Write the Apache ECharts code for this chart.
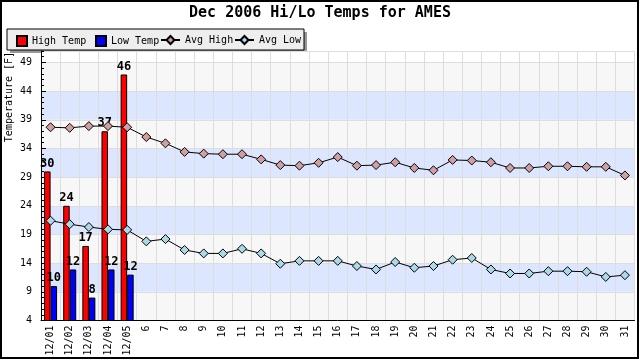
<!DOCTYPE html>
<html>
<head>
<meta charset="utf-8">
<script src="https://cdn.jsdelivr.net/npm/echarts@6/dist/echarts.min.js"></script>
<style>html,body{margin:0;padding:0;background:#fff}#c{width:640px;height:360px}</style>
</head>
<body>
<div id="c"></div>
<script>
const days = ['12/01','12/02','12/03','12/04','12/05','6','7','8','9','10','11','12','13','14','15','16','17','18','19','20','21','22','23','24','25','26','27','28','29','30','31'];
const highTemp = [30, 24, 17, 37, 46.9];
const lowTemp = [10, 12.9, 8, 12.9, 12];
const avgHigh = [37.7,37.6,37.9,37.9,37.7,36.0,34.9,33.4,33.1,33.0,33.0,32.1,31.1,31.0,31.5,32.5,31.0,31.1,31.6,30.6,30.2,32.0,31.9,31.6,30.6,30.6,30.9,30.9,30.8,30.8,29.3];
const avgLow = [21.4,20.8,20.3,19.9,19.8,17.8,18.2,16.3,15.7,15.7,16.5,15.7,13.9,14.4,14.4,14.4,13.5,12.9,14.2,13.2,13.5,14.6,14.9,12.9,12.2,12.2,12.6,12.6,12.5,11.6,11.9];
const yMin = 4, yMax = 51, yStep = 5;

const MONO = 'DejaVu Sans Mono';
const chart = echarts.init(document.getElementById('c'), null, {renderer: 'canvas'});
const bandColors = ['#f7f7f7','#dde6ff','#f7f7f7','#dde6ff','#f7f7f7','#dde6ff','#f7f7f7','#dde6ff','#f7f7f7','#ffffff'];
const labelFmt = p => String(Math.floor(p.value));
const legendText = {fontFamily: MONO, fontSize: 10, color: '#000'};
function oneLegend(name, left, w, icon) {
  const l = {data: [name], left: left, top: 35, padding: 0, itemWidth: w, itemHeight: 10, selectedMode: false, textStyle: legendText};
  if (icon) l.icon = icon;
  return l;
}

chart.setOption({
  animation: false,
  backgroundColor: '#ffffff',
  title: {
    text: 'Dec 2006 Hi/Lo Temps for AMES',
    left: 'center', top: 6, padding: 0,
    textStyle: {fontFamily: MONO, fontWeight: 'bold', fontSize: 15, color: '#000'}
  },
  legend: [
    oneLegend('High Temp', 16, 10, 'rect'),
    oneLegend('Low Temp', 95, 10, 'rect'),
    oneLegend('Avg High', 160, 19),
    oneLegend('Avg Low', 234, 19)
  ],
  graphic: [
    {type: 'rect', z: -1, shape: {x: 10, y: 32, width: 297, height: 21}, style: {fill: '#999999'}},
    {type: 'rect', z: 0, shape: {x: 7, y: 29, width: 297, height: 21}, style: {fill: '#eeeeee', stroke: '#000', lineWidth: 1}},
    {type: 'rect', z: 100, shape: {x: 1, y: 1, width: 637, height: 357}, style: {fill: 'none', stroke: '#000', lineWidth: 2}},
    {type: 'text', z: 100, x: 9, y: 97, rotation: Math.PI / 2,
     style: {text: 'Temperature [F]', font: '10px "DejaVu Sans Mono"', fill: '#000', align: 'center', verticalAlign: 'middle'}}
  ],
  grid: {left: 41, right: 5.5, top: 51, bottom: 39.5, containLabel: false},
  xAxis: {
    type: 'category', data: days, boundaryGap: true,
    axisLine: {lineStyle: {color: '#000', width: 1}},
    axisTick: {inside: true, length: 4, lineStyle: {color: '#000'}},
    axisLabel: {rotate: 90, interval: 0, margin: 5, fontFamily: MONO, fontSize: 10, color: '#000'},
    splitLine: {show: true, interval: 0, lineStyle: {color: '#dddddd', width: 1}}
  },
  yAxis: [
    {
      type: 'value', min: yMin, max: yMax, interval: yStep, position: 'left',
      axisLine: {show: true, lineStyle: {color: '#000', width: 1}},
      axisTick: {show: true, inside: true, length: 5, lineStyle: {color: '#000'}},
      axisLabel: {margin: 9, fontFamily: MONO, fontSize: 10, color: '#000', showMaxLabel: false},
      splitLine: {show: true, lineStyle: {color: '#dddddd', width: 1}},
      splitArea: {show: true, areaStyle: {color: bandColors}}
    },
    {
      type: 'value', min: yMin, max: yMax, interval: 1, position: 'left', offset: 0,
      axisLine: {show: false},
      axisTick: {show: true, inside: true, length: 3, lineStyle: {color: '#000'}},
      axisLabel: {show: false},
      splitLine: {show: false}
    }
  ],
  series: [
    {
      name: 'High Temp', type: 'bar', data: highTemp, barWidth: '34%', barGap: '0%',
      itemStyle: {color: '#ff0000', borderColor: '#000', borderWidth: 1},
      label: {show: true, position: 'top', distance: 2, formatter: labelFmt, fontFamily: MONO, fontWeight: 'bold', fontSize: 12, color: '#000'}
    },
    {
      name: 'Low Temp', type: 'bar', data: lowTemp, barWidth: '34%', barGap: '0%',
      itemStyle: {color: '#0000ff', borderColor: '#000', borderWidth: 1},
      label: {show: true, position: 'top', distance: 2, formatter: labelFmt, fontFamily: MONO, fontWeight: 'bold', fontSize: 12, color: '#000'}
    },
    {
      name: 'Avg High', type: 'line', data: avgHigh, symbol: 'diamond', symbolSize: 9, showAllSymbol: true, z: 5,
      lineStyle: {color: '#000', width: 1},
      itemStyle: {color: '#d0a0a0', borderColor: '#000', borderWidth: 1}
    },
    {
      name: 'Avg Low', type: 'line', data: avgLow, symbol: 'diamond', symbolSize: 9, showAllSymbol: true, z: 5,
      lineStyle: {color: '#000', width: 1},
      itemStyle: {color: '#add8e6', borderColor: '#000', borderWidth: 1}
    }
  ]
});
</script>
</body>
</html>
